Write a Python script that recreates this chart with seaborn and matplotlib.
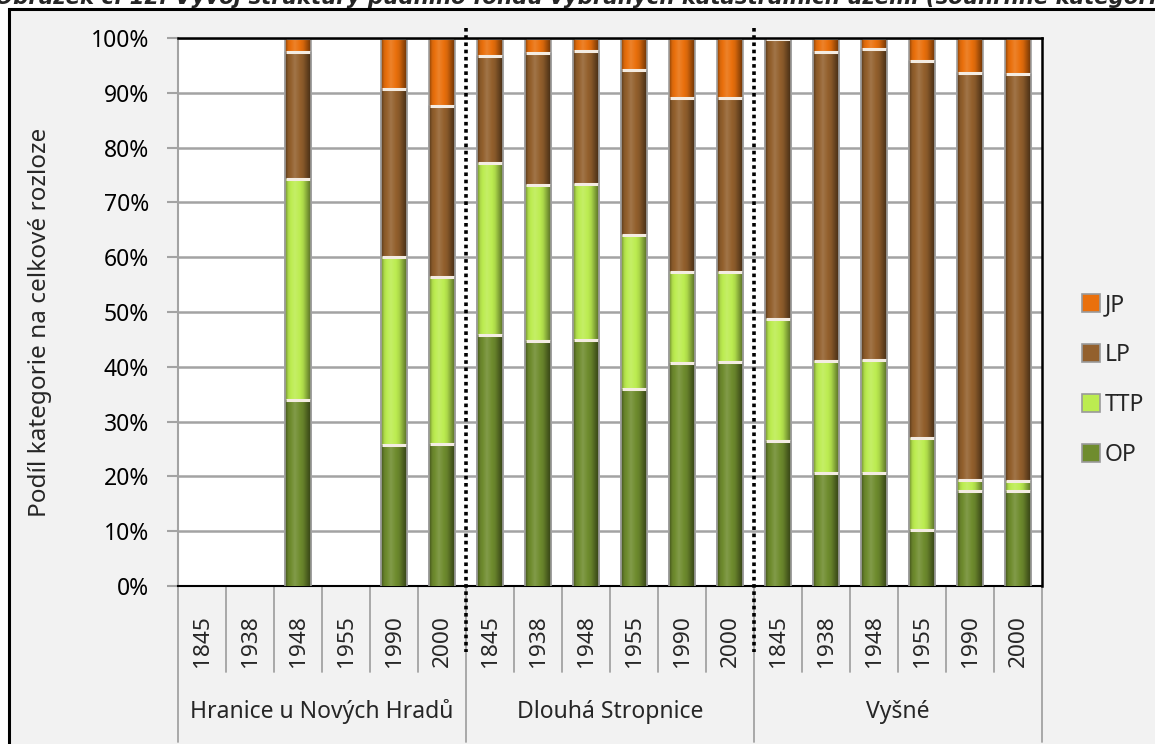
import numpy as np
import pandas as pd
import matplotlib
matplotlib.use("Agg")
import matplotlib.pyplot as plt
import seaborn as sns
from matplotlib.patches import Rectangle, Patch
from matplotlib.colors import to_rgb
import matplotlib.transforms as mtransforms

# ---------------- data ----------------
groups = ["Hranice u Nových Hradů", "Dlouhá Stropnice", "Vyšné"]
years = ["1845", "1938", "1948", "1955", "1990", "2000"]
OP = [0, 0, 33.9, 0, 25.8, 25.9,
      45.8, 44.7, 44.9, 35.9, 40.7, 40.8,
      26.5, 20.6, 20.6, 10.2, 17.3, 17.4]
TTP = [0, 0, 40.4, 0, 34.2, 30.5,
       31.4, 28.5, 28.5, 28.2, 16.6, 16.5,
       22.2, 20.5, 20.6, 16.8, 2.0, 1.7]
LP = [0, 0, 23.1, 0, 30.7, 31.2,
      19.5, 24.1, 24.2, 30.1, 31.8, 31.8,
      51.1, 56.3, 56.8, 68.8, 74.4, 74.3]
JP = [0, 0, 2.6, 0, 9.3, 12.4,
      3.3, 2.7, 2.4, 5.8, 10.9, 10.9,
      0.2, 2.6, 2.0, 4.2, 6.3, 6.6]
series = ["OP", "TTP", "LP", "JP"]
colors = {"OP": "#6f8c2e", "TTP": "#bcec50", "LP": "#93602d", "JP": "#ea700c"}
title = "Obrázek č. 12: Vývoj struktury půdního fondu vybraných katastrálních území (souhrnné kategorie)"
ylabel = "Podíl kategorie na celkové rozloze"

keys = [f"{g}|{y}" for g in groups for y in years]
df = pd.DataFrame({"key": keys, "OP": OP, "TTP": TTP, "LP": LP, "JP": JP})
df["c_OP"] = df["OP"]
df["c_TTP"] = df["c_OP"] + df["TTP"]
df["c_LP"] = df["c_TTP"] + df["LP"]
df["c_JP"] = df["c_LP"] + df["JP"]

# ---------------- style ----------------
sns.set_theme(style="white")
plt.rcParams['font.family'] = ['Noto Sans', 'DejaVu Sans']

W, H = 1155, 744
fig = plt.figure(figsize=(W / 100, H / 100), dpi=100)
fig.patch.set_facecolor("white")
bg = Rectangle((9 / W, -0.01), 1.1, 1 - 9 / H + 0.01,
               transform=fig.transFigure, facecolor="#f2f2f2",
               edgecolor="black", lw=2.2, zorder=-5)
fig.patches.append(bg)

L, R, T, B = 178, 1042, 38, 586
ax = fig.add_axes([L / W, 1 - B / H, (R - L) / W, (B - T) / H])
ax.set_zorder(1)
ax.set_facecolor("white")

def shade(base, f):
    base = np.array(base)
    if f >= 1:
        return base + (1 - base) * (f - 1)
    return base * f

prof_x = [0, 0.05, 0.12, 0.38, 0.7, 0.9, 1.0]
prof_f = [0.62, 0.72, 0.92, 1.13, 0.92, 0.62, 0.48]

for li, name in enumerate(["JP", "LP", "TTP", "OP"]):
    n_before = len(ax.patches)
    sns.barplot(data=df, x="key", y="c_" + name, order=keys, color=colors[name],
                saturation=1, width=0.54, errorbar=None, ax=ax, linewidth=0)
    base = to_rgb(colors[name])
    for p in ax.patches[n_before:]:
        x0, y0 = p.get_x(), p.get_y()
        w, h = p.get_width(), p.get_height()
        if h <= 0:
            continue
        t = np.linspace(0, 1, 64)
        f = np.interp(t, prof_x, prof_f)
        img = np.array([[shade(base, fv) for fv in f]])
        z = 2 + li * 0.2
        im = ax.imshow(img, extent=[x0, x0 + w, y0, y0 + h], aspect="auto",
                       zorder=z, interpolation="bilinear")
        im.set_clip_path(p)
        p.set_zorder(z - 0.05)
        ax.plot([x0 + w * 0.03, x0 + w * 0.97], [y0 + h, y0 + h], color="#f4ece2",
                lw=2.2, zorder=z + 0.1, solid_capstyle="butt")
        ax.plot([x0, x0], [y0, y0 + h], color="#a0a0a0", lw=1.2, zorder=z + 0.1)
        ax.plot([x0 + w, x0 + w], [y0, y0 + h], color="#a0a0a0", lw=1.2, zorder=z + 0.1)

ax.set_xlim(-0.5, len(keys) - 0.5)
ax.set_ylim(0, 100)
ax.set_yticks(np.arange(0, 101, 10))
ax.set_yticklabels([f"{v}%" for v in range(0, 101, 10)], fontsize=16.5, color="black")
ax.yaxis.grid(True, color="#a3a3a3", lw=1.8)
ax.set_axisbelow(True)
ax.tick_params(axis="y", left=True, length=8, width=1.5, color="#a3a3a3", pad=13)
ax.set_xticks(range(len(keys)))
ax.set_xticklabels(years * len(groups), rotation=90, fontsize=16.3)
ax.tick_params(axis="x", bottom=False, length=0, pad=21)
ax.set_xlabel("")
ax.set_ylabel("")
for s in ["top", "right"]:
    ax.spines[s].set_color("black")
    ax.spines[s].set_linewidth(1.8)
ax.spines["bottom"].set_color("black")
ax.spines["bottom"].set_linewidth(1.5)
ax.spines["left"].set_color("#a3a3a3")
ax.spines["left"].set_linewidth(1.5)

trans = mtransforms.blended_transform_factory(ax.transData, ax.transAxes)
short_y = -(672 - B) / (B - T)
long_y = -(742 - B) / (B - T)
for i in range(len(keys) + 1):
    xb = i - 0.5
    yb = long_y if i % len(years) == 0 else short_y
    ax.plot([xb, xb], [0, yb], transform=trans, color="#a3a3a3", lw=1.3, clip_on=False)
for gi, g in enumerate(groups):
    cx = gi * len(years) + (len(years) - 1) / 2
    ax.text(cx, -(712 - B) / (B - T), g, transform=trans, ha="center", va="center",
            fontsize=16.5)
for gi in range(1, len(groups)):
    xb = gi * len(years) - 0.5
    ax.plot([xb, xb], [(B - 28) / (B - T), -(652 - B) / (B - T)], transform=trans,
            color="black", lw=2.6, linestyle=(0, (1, 1)), clip_on=False, zorder=10)

fig.text(40 / W, 1 - 322 / H, ylabel, rotation=90, ha="center", va="center", fontsize=17.5)

handles = [Patch(facecolor=colors[n], edgecolor="#9a9a9a", lw=1.2) for n in ["JP", "LP", "TTP", "OP"]]
fig.legend(handles=handles, labels=["JP", "LP", "TTP", "OP"], loc="center left",
           bbox_to_anchor=(1082 / W, 1 - 380 / H), frameon=False, fontsize=16.5,
           handlelength=0.8, handleheight=0.8, handletextpad=0.2, labelspacing=1.13,
           borderpad=0, borderaxespad=0)

fig.text(-0.004, 1 - 4 / H, title, fontsize=15.3, fontweight="bold", style="italic",
         va="baseline", ha="left", family="DejaVu Sans")

fig.savefig("out.png", dpi=100, facecolor=fig.get_facecolor())
